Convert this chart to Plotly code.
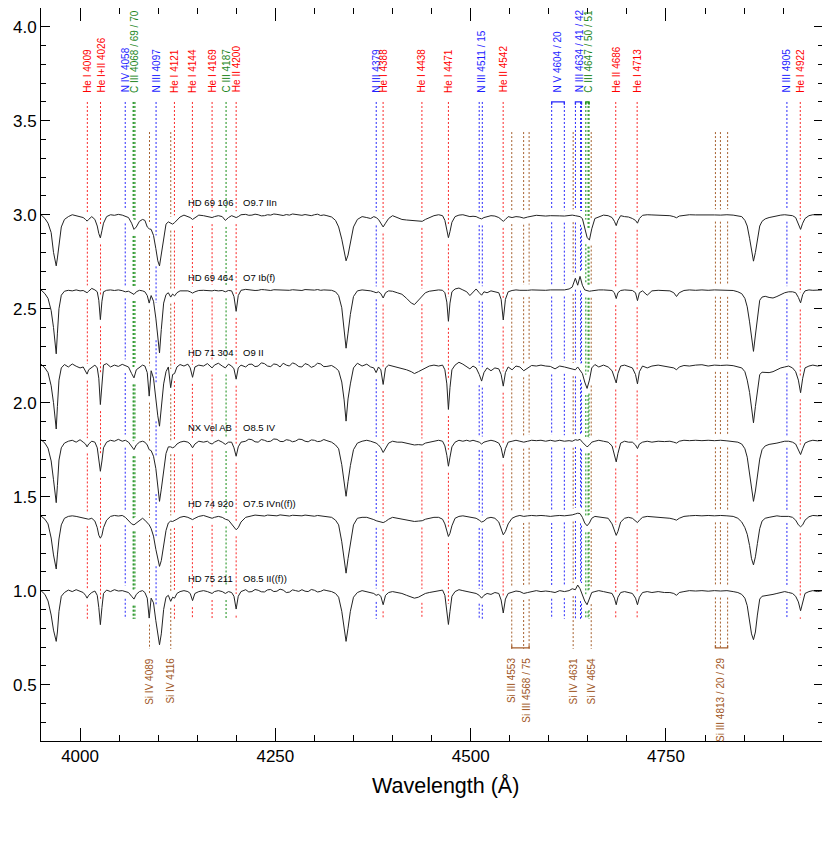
import numpy as np
import plotly.graph_objects as go

# ---------------- data ----------------
WAVE = [
    3950, 3955, 3959, 3963, 3966, 3968, 3969.5, 3971, 3973, 3976, 3980, 3985, 3990, 3995,
    4000, 4004, 4007, 4009, 4011, 4015, 4019, 4022, 4024, 4026, 4028, 4030,
    4034, 4039, 4044, 4049, 4054, 4058, 4062, 4066, 4069, 4072, 4076, 4080,
    4083, 4086, 4088.5, 4091, 4094, 4097, 4099.5, 4101.7, 4104, 4107, 4110, 4113,
    4116, 4118.5, 4121, 4124, 4128, 4133, 4138, 4141, 4144, 4147, 4152, 4158,
    4163, 4166, 4169, 4172, 4177, 4182, 4186, 4190, 4194, 4197, 4199.8, 4202.5, 4206,
    4212, 4216, 4220, 4224, 4228, 4232, 4236, 4240, 4244, 4248, 4252, 4256, 4260, 4264,
    4268, 4272, 4276, 4280, 4284, 4288, 4292, 4296, 4300, 4304, 4308, 4312, 4316,
    4322, 4327, 4331, 4335, 4338, 4340.5, 4343, 4346, 4350, 4355, 4361, 4367,
    4372, 4376, 4379, 4382, 4385, 4388, 4391, 4395, 4400, 4406, 4412, 4418,
    4424, 4428, 4433, 4438, 4442, 4447, 4453, 4459, 4464, 4467, 4469.5, 4471.5, 4473.5, 4476,
    4480, 4485, 4490, 4495, 4499, 4503, 4507, 4511, 4514, 4517, 4521, 4526,
    4531, 4536, 4539, 4541.7, 4544.5, 4548, 4553, 4558, 4563, 4568, 4573, 4578,
    4584, 4590, 4596, 4602, 4608, 4614, 4620, 4626, 4630,
    4634, 4637, 4640, 4643, 4646, 4649, 4652, 4655, 4659, 4664, 4670, 4676,
    4681, 4684, 4686.3, 4688.5, 4692, 4697, 4702, 4707, 4711, 4713.5, 4716, 4720,
    4726, 4732, 4740, 4748, 4755, 4760, 4763.5, 4767, 4773, 4780, 4788, 4796,
    4804, 4812, 4820, 4828, 4836, 4842, 4847, 4851, 4854, 4857, 4859.5, 4862,
    4864.5, 4867, 4870, 4873, 4877, 4882, 4887, 4892, 4897, 4902, 4907, 4912,
    4916, 4919.5, 4922.3, 4925, 4928, 4933, 4938, 4944, 4951,
]

FLUX_HD69106 = [
    1.0, 0.98, 0.955, 0.905, 0.80, 0.745, 0.728, 0.77, 0.85, 0.935, 0.975, 0.99, 1.0, 0.995,
    0.99, 0.985, 0.975, 0.966, 0.975, 0.99, 0.975, 0.94, 0.90, 0.877, 0.915, 0.955,
    0.99, 1.0, 0.997, 1.002, 0.998, 0.992, 0.985, 0.955, 0.922, 0.935, 0.965, 0.975,
    0.97, 0.935, 0.925, 0.922, 0.89, 0.82, 0.755, 0.728, 0.79, 0.89, 0.95, 0.962,
    0.955, 0.95, 0.958, 0.972, 0.988, 0.998, 0.99, 0.985, 0.975, 0.985, 0.998, 0.995,
    0.99, 0.99, 0.985, 0.99, 0.995, 0.99, 0.97, 0.985, 0.995, 0.99, 0.985, 0.99, 1.0,
    1.002, 0.997, 0.998, 1.003, 1.0, 0.994, 0.995, 1.0, 0.998, 1.004, 1.002, 0.997, 0.996, 1.001,
    0.998, 1.004, 1.003, 0.998, 0.997, 1.001, 0.999, 0.995, 1.0, 1.003, 0.996, 0.999, 0.995,
    0.988, 0.97, 0.935, 0.87, 0.80, 0.755, 0.785, 0.855, 0.935, 0.975, 0.99, 0.985,
    0.98, 0.99, 0.985, 0.975, 0.955, 0.935, 0.955, 0.98, 0.995, 0.985, 0.975, 0.972,
    0.97, 0.968, 0.97, 0.965, 0.975, 0.985, 0.995, 1.0, 0.995, 0.97, 0.92, 0.878, 0.91, 0.96,
    0.99, 0.998, 1.0, 0.995, 0.99, 0.992, 0.99, 0.982, 0.978, 0.985, 0.99, 0.995,
    0.993, 0.985, 0.975, 0.965, 0.975, 0.99, 0.985, 0.99, 0.988, 0.982, 0.988, 0.993,
    0.997, 0.995, 0.993, 0.995, 0.996, 0.994, 0.993, 0.995, 0.998,
    0.995, 0.993, 0.99, 0.98, 0.935, 0.88, 0.865, 0.925, 0.98, 0.99, 0.998, 0.995,
    0.985, 0.965, 0.942, 0.97, 0.995, 0.99, 0.988, 0.98, 0.97, 0.955, 0.98, 0.997,
    1.0, 0.999, 0.998, 0.997, 0.995, 0.99, 0.984, 0.993, 0.998, 1.0, 0.999, 1.0,
    0.998, 0.999, 0.998, 1.0, 0.998, 0.993, 0.99, 0.97, 0.94, 0.875, 0.80, 0.753,
    0.80, 0.87, 0.94, 0.965, 0.978, 0.985, 0.99, 0.995, 0.998, 1.0, 0.998, 0.995,
    0.985, 0.95, 0.922, 0.955, 0.98, 0.995, 1.0, 0.999, 1.0,
]

FLUX_HD69464 = [
    1.0, 0.98, 0.955, 0.89, 0.80, 0.70, 0.66, 0.77, 0.90, 0.972, 0.993, 0.998, 0.995, 1.0,
    0.995, 0.997, 0.99, 0.985, 0.993, 1.008, 1.0, 0.99, 0.945, 0.842, 0.94, 0.99,
    0.998, 1.0, 0.997, 1.0, 0.996, 0.99, 0.993, 0.982, 0.976, 0.99, 0.998, 0.995,
    0.99, 0.97, 0.93, 0.97, 0.94, 0.85, 0.76, 0.665, 0.79, 0.93, 0.975, 0.985,
    0.962, 0.978, 0.968, 0.985, 0.995, 0.997, 0.995, 0.99, 0.983, 0.99, 0.997, 0.998,
    0.995, 0.997, 0.995, 0.998, 0.995, 0.997, 0.99, 0.997, 0.995, 0.965, 0.886, 0.97, 0.998,
    1.003, 1.0, 1.0, 0.997, 0.998, 1.002, 1.001, 0.998, 0.997, 1.001, 1.0, 1.003, 1.002, 0.998,
    0.998, 1.001, 1.0, 0.997, 0.997, 1.002, 1.001, 0.998, 0.999, 1.002, 0.998, 1.0, 1.0,
    0.998, 0.99, 0.97, 0.905, 0.80, 0.69, 0.77, 0.87, 0.965, 0.995, 1.0, 0.998,
    0.995, 0.99, 0.985, 0.99, 0.98, 0.957, 0.985, 0.995, 0.993, 0.985, 0.977, 0.955,
    0.93, 0.922, 0.945, 0.972, 0.985, 0.993, 0.997, 1.0, 0.998, 0.985, 0.935, 0.833, 0.93, 0.99,
    1.005, 1.01, 1.0, 0.99, 0.97, 0.988, 1.005, 0.985, 0.972, 0.99, 0.985, 0.995,
    0.99, 0.985, 0.95, 0.84, 0.95, 0.99, 0.997, 1.0, 0.998, 0.996, 0.998, 1.0,
    0.999, 1.0, 0.998, 1.0, 1.0, 1.003, 1.0, 1.005, 1.015,
    1.062, 1.025, 1.072, 1.025, 1.0, 0.995, 0.993, 0.995, 0.998, 1.0, 1.0, 0.998,
    0.997, 0.985, 0.954, 0.985, 0.997, 1.0, 0.998, 0.997, 0.985, 0.943, 0.985, 0.995,
    0.972, 0.995, 0.998, 0.997, 0.995, 0.985, 0.965, 0.985, 0.997, 1.0, 0.998, 1.0,
    0.998, 1.0, 0.998, 0.999, 0.997, 0.99, 0.98, 0.955, 0.91, 0.83, 0.74, 0.673,
    0.76, 0.845, 0.945, 0.962, 0.966, 0.96, 0.957, 0.965, 0.975, 0.985, 0.99, 0.99,
    0.985, 0.96, 0.931, 0.975, 0.995, 1.0, 0.998, 1.0, 1.0,
]

FLUX_HD71304 = [
    1.005, 0.985, 0.96, 0.89, 0.80, 0.70, 0.66, 0.78, 0.92, 0.985, 1.003, 0.99, 1.006, 0.994,
    0.985, 0.99, 0.97, 0.952, 0.975, 0.99, 1.0, 0.985, 0.93, 0.79, 0.92, 1.0,
    1.008, 0.99, 1.0, 0.993, 1.004, 0.995, 0.99, 0.955, 0.932, 0.975, 0.99, 1.0,
    0.995, 0.96, 0.835, 0.97, 0.93, 0.80, 0.73, 0.675, 0.76, 0.90, 0.965, 0.99,
    0.88, 0.95, 0.955, 0.99, 1.003, 0.995, 1.005, 0.985, 0.935, 0.99, 1.0, 0.995,
    1.008, 0.995, 0.985, 1.0, 1.01, 0.995, 0.985, 1.005, 0.995, 0.98, 0.925, 0.985, 1.0,
    0.99, 1.004, 1.005, 0.992, 0.995, 1.012, 1.008, 0.995, 0.992, 1.006, 1.003, 0.99, 1.01, 1.0,
    0.995, 1.012, 1.005, 0.992, 0.99, 1.008, 1.002, 0.988, 0.995, 1.01, 1.006, 0.992, 0.993,
    0.998, 0.985, 0.97, 0.91, 0.815, 0.702, 0.82, 0.90, 0.985, 1.01, 0.995, 1.005,
    0.99, 0.985, 0.96, 0.99, 0.975, 0.897, 0.985, 1.0, 0.995, 0.99, 0.985, 0.975,
    0.965, 0.955, 0.965, 0.975, 0.985, 0.995, 1.0, 0.995, 1.0, 0.975, 0.90, 0.764, 0.88, 0.975,
    1.0, 1.015, 1.005, 0.99, 0.98, 0.995, 0.985, 0.95, 0.915, 0.96, 0.985, 0.97,
    0.985, 0.98, 0.95, 0.888, 0.96, 0.99, 0.975, 0.995, 0.99, 0.97, 0.985, 0.998,
    0.995, 1.0, 0.995, 0.993, 0.98, 0.995, 0.99, 0.985, 0.98,
    0.975, 0.99, 0.97, 0.955, 0.91, 0.876, 0.92, 0.985, 1.003, 0.99, 1.0, 0.99,
    0.97, 0.93, 0.905, 0.955, 0.995, 1.0, 0.993, 0.985, 0.95, 0.90, 0.965, 0.995,
    0.985, 0.995, 1.0, 0.995, 0.99, 0.985, 0.975, 0.99, 0.998, 0.995, 1.0, 1.002,
    0.995, 1.0, 0.998, 1.0, 0.997, 0.99, 0.985, 0.965, 0.92, 0.855, 0.76, 0.693,
    0.78, 0.86, 0.95, 0.962, 0.96, 0.96, 0.965, 0.975, 0.985, 0.99, 0.995, 0.985,
    0.965, 0.92, 0.853, 0.93, 0.985, 0.995, 1.0, 0.995, 1.0,
]

FLUX_NXVEL = [
    1.003, 0.985, 0.958, 0.89, 0.79, 0.70, 0.668, 0.76, 0.895, 0.96, 0.985, 0.995, 1.0, 0.99,
    1.003, 0.99, 0.98, 0.965, 0.98, 0.995, 0.99, 0.96, 0.90, 0.835, 0.89, 0.96,
    0.99, 1.0, 0.995, 1.005, 0.995, 1.0, 0.99, 0.965, 0.95, 0.975, 0.99, 0.995,
    0.99, 0.975, 0.95, 0.945, 0.915, 0.85, 0.74, 0.675, 0.74, 0.85, 0.93, 0.965,
    0.965, 0.96, 0.965, 0.98, 0.99, 0.995, 0.99, 0.98, 0.96, 0.98, 0.995, 0.99,
    0.995, 0.985, 0.98, 0.99, 1.0, 0.99, 0.978, 0.99, 0.99, 0.96, 0.915, 0.965, 0.99,
    0.995, 1.006, 1.003, 0.992, 0.99, 1.004, 1.0, 0.993, 0.995, 1.007, 1.005, 0.994, 0.993, 1.003,
    1.0, 0.992, 0.996, 1.006, 1.004, 0.995, 0.992, 1.002, 1.0, 0.993, 0.995, 1.004, 0.998,
    0.99, 0.975, 0.955, 0.87, 0.78, 0.702, 0.78, 0.865, 0.95, 0.985, 0.995, 1.0,
    0.995, 0.99, 0.985, 0.975, 0.96, 0.935, 0.96, 0.985, 0.995, 0.99, 0.99, 0.985,
    0.98, 0.975, 0.977, 0.975, 0.985, 0.99, 0.995, 1.0, 0.995, 0.97, 0.92, 0.862, 0.91, 0.965,
    0.99, 1.0, 0.995, 1.0, 0.995, 1.0, 0.995, 0.99, 0.98, 0.99, 0.995, 1.0,
    0.995, 0.985, 0.96, 0.906, 0.955, 0.99, 0.995, 1.0, 0.995, 0.99, 0.995, 1.0,
    0.998, 1.0, 0.995, 1.0, 0.995, 1.0, 0.995, 0.998, 0.995,
    1.003, 1.0, 1.005, 0.99, 0.975, 0.965, 0.975, 0.99, 0.995, 1.0, 0.995, 0.99,
    0.97, 0.92, 0.885, 0.93, 0.985, 0.995, 0.99, 0.99, 0.975, 0.956, 0.98, 0.99,
    0.995, 0.99, 0.995, 0.993, 0.995, 0.99, 0.985, 0.995, 1.0, 0.998, 1.0, 0.998,
    1.0, 0.998, 1.0, 0.997, 0.995, 0.99, 0.98, 0.955, 0.91, 0.83, 0.74, 0.675,
    0.73, 0.82, 0.90, 0.95, 0.97, 0.978, 0.98, 0.985, 0.99, 0.995, 0.995, 0.99,
    0.98, 0.95, 0.924, 0.955, 0.985, 0.995, 1.0, 0.997, 1.0,
]

FLUX_HD74920 = [
    0.997, 0.98, 0.955, 0.88, 0.79, 0.735, 0.715, 0.79, 0.875, 0.95, 0.985, 0.995, 0.998, 0.995,
    0.99, 0.985, 0.98, 0.978, 0.98, 0.985, 0.97, 0.935, 0.895, 0.879, 0.895, 0.935,
    0.975, 0.995, 1.0, 0.997, 1.0, 0.99, 0.975, 0.955, 0.95, 0.96, 0.975, 0.985,
    0.975, 0.96, 0.95, 0.93, 0.89, 0.82, 0.76, 0.729, 0.76, 0.84, 0.92, 0.96,
    0.97, 0.968, 0.972, 0.98, 0.99, 0.995, 0.99, 0.985, 0.978, 0.985, 0.995, 1.0,
    0.995, 0.99, 0.985, 0.99, 0.995, 0.99, 0.98, 0.975, 0.955, 0.935, 0.924, 0.935, 0.965,
    0.99, 0.996, 0.998, 1.002, 1.0, 0.996, 0.997, 1.002, 1.0, 0.997, 0.998, 1.003, 1.002, 0.998,
    0.997, 1.001, 1.0, 0.996, 0.998, 1.002, 1.0, 0.997, 0.996, 1.0, 0.998, 0.995, 0.997,
    0.99, 0.975, 0.95, 0.86, 0.77, 0.693, 0.77, 0.855, 0.95, 0.985, 0.99, 0.99,
    0.985, 0.978, 0.972, 0.968, 0.965, 0.962, 0.968, 0.98, 0.99, 0.985, 0.98, 0.975,
    0.97, 0.968, 0.97, 0.972, 0.98, 0.985, 0.99, 0.99, 0.98, 0.955, 0.91, 0.888, 0.905, 0.945,
    0.985, 0.995, 0.998, 0.995, 0.992, 0.99, 0.985, 0.975, 0.965, 0.97, 0.985, 0.99,
    0.985, 0.965, 0.925, 0.897, 0.915, 0.955, 0.985, 0.995, 1.0, 0.995, 0.998, 1.0,
    0.998, 1.0, 0.998, 0.995, 0.998, 1.0, 0.998, 1.0, 1.003,
    1.008, 1.012, 1.01, 0.99, 0.96, 0.945, 0.96, 0.985, 0.995, 0.993, 0.99, 0.985,
    0.955, 0.915, 0.894, 0.915, 0.965, 0.985, 0.99, 0.985, 0.972, 0.962, 0.975, 0.99,
    0.995, 0.993, 0.99, 0.99, 0.985, 0.98, 0.975, 0.985, 0.995, 0.998, 1.0, 0.998,
    1.0, 0.998, 1.0, 0.998, 0.995, 0.985, 0.965, 0.935, 0.90, 0.84, 0.77, 0.737,
    0.78, 0.85, 0.93, 0.97, 0.985, 0.99, 0.995, 0.998, 0.995, 0.997, 0.995, 0.99,
    0.975, 0.95, 0.94, 0.95, 0.975, 0.993, 1.0, 0.998, 1.0,
]

FLUX_HD75211 = [
    1.0, 0.98, 0.945, 0.87, 0.79, 0.745, 0.73, 0.78, 0.89, 0.97, 0.99, 1.003, 0.995, 1.005,
    0.995, 0.99, 0.975, 0.96, 0.975, 0.99, 0.998, 0.975, 0.91, 0.819, 0.91, 0.985,
    1.003, 0.995, 1.005, 0.998, 1.0, 0.993, 0.99, 0.97, 0.955, 0.98, 0.995, 1.0,
    0.99, 0.96, 0.854, 0.96, 0.935, 0.84, 0.76, 0.712, 0.77, 0.90, 0.965, 0.975,
    0.943, 0.965, 0.96, 0.985, 0.995, 1.0, 0.995, 0.985, 0.947, 0.985, 0.995, 1.0,
    0.995, 0.99, 0.985, 0.995, 1.0, 0.995, 0.985, 0.995, 0.99, 0.97, 0.902, 0.97, 0.995,
    1.005, 0.993, 0.995, 1.006, 1.002, 0.994, 0.993, 1.004, 1.006, 0.995, 0.997, 1.008, 1.003, 0.99,
    0.992, 1.004, 1.0, 0.996, 1.005, 0.997, 0.995, 1.006, 1.002, 0.993, 0.996, 1.004, 1.0,
    0.995, 0.985, 0.965, 0.89, 0.80, 0.73, 0.80, 0.89, 0.965, 0.99, 1.0, 0.995,
    0.99, 0.985, 0.975, 0.98, 0.97, 0.925, 0.975, 0.99, 0.995, 0.99, 0.985, 0.975,
    0.965, 0.96, 0.965, 0.975, 0.985, 0.99, 0.995, 1.0, 1.003, 0.975, 0.90, 0.82, 0.89, 0.97,
    0.995, 1.005, 1.0, 0.995, 0.995, 0.99, 0.985, 0.975, 0.96, 0.975, 0.985, 0.98,
    0.99, 0.985, 0.95, 0.881, 0.955, 0.985, 0.99, 0.998, 0.995, 0.985, 0.99, 0.995,
    1.0, 0.995, 0.998, 0.995, 0.99, 1.0, 0.995, 1.0, 1.01,
    1.005, 1.03, 1.01, 0.975, 0.945, 0.925, 0.96, 0.99, 0.995, 1.0, 0.995, 0.99,
    0.985, 0.96, 0.925, 0.965, 0.99, 0.995, 0.99, 0.985, 0.96, 0.925, 0.965, 0.99,
    0.995, 0.99, 0.995, 0.99, 0.99, 0.985, 0.975, 0.99, 0.995, 1.0, 0.998, 1.0,
    0.997, 1.0, 0.998, 1.0, 0.995, 0.99, 0.98, 0.96, 0.92, 0.84, 0.77, 0.739,
    0.78, 0.87, 0.955, 0.97, 0.972, 0.975, 0.98, 0.985, 0.99, 0.995, 0.99, 0.985,
    0.97, 0.94, 0.893, 0.945, 0.985, 0.995, 1.0, 0.995, 1.0,
]

FLUXES = [FLUX_HD69106, FLUX_HD69464, FLUX_HD71304, FLUX_NXVEL, FLUX_HD74920, FLUX_HD75211]
STAR_NAMES = ["HD 69 106", "HD 69 464", "HD 71 304", "NX Vel AB", "HD 74 920", "HD 75 211"]
SP_TYPES = ["O9.7 IIn", "O7 Ib(f)", "O9 II", "O8.5 IV", "O7.5 IVn((f))", "O8.5 II((f))"]
OFFSETS = [2.0, 1.6, 1.2, 0.8, 0.4, 0.0]

# line identifications: (label, wavelengths, colour key, side)
LINE_IDS = [
    ("He I 4009", [4009.3], "red", "top"),
    ("He I+II 4026", [4026.2], "red", "top"),
    ("N IV 4058", [4057.8], "blue", "top"),
    ("C III 4068 / 69 / 70", [4067.9, 4068.9, 4070.3], "green", "top"),
    ("N III 4097", [4097.3], "blue", "top"),
    ("He I 4121", [4120.8], "red", "top"),
    ("He I 4144", [4143.8], "red", "top"),
    ("He I 4169", [4169.0], "red", "top"),
    ("C III 4187", [4186.9], "green", "top"),
    ("He II 4200", [4199.8], "red", "top"),
    ("N III 4379", [4379.1], "blue", "top"),
    ("He I 4388", [4387.9], "red", "top"),
    ("He I 4438", [4437.6], "red", "top"),
    ("He I 4471", [4471.5], "red", "top"),
    ("N III 4511 / 15", [4510.9, 4514.9], "blue", "top"),
    ("He II 4542", [4541.6], "red", "top"),
    ("N V 4604 / 20", [4603.7, 4619.9], "blue", "top"),
    ("N III 4634 / 41 / 42", [4634.1, 4640.6, 4641.9], "blue", "top"),
    ("C III 4647 / 50 / 51", [4647.4, 4650.3, 4651.5], "green", "top"),
    ("He II 4686", [4685.7], "red", "top"),
    ("He I 4713", [4713.1], "red", "top"),
    ("N III 4905", [4904.8], "blue", "top"),
    ("He I 4922", [4921.9], "red", "top"),
    ("Si IV 4089", [4088.9], "brown", "bottom"),
    ("Si IV 4116", [4116.1], "brown", "bottom"),
    ("Si III 4553", [4552.6], "brown", "bottom"),
    ("Si III 4568 / 75", [4567.8, 4574.8], "brown", "bottom"),
    ("Si IV 4631", [4631.2], "brown", "bottom"),
    ("Si IV 4654", [4654.3], "brown", "bottom"),
    ("Si III 4813 / 20 / 29", [4813.3, 4819.7, 4828.9], "brown", "bottom"),
]

# brackets joining blended components: (first wl, last wl, colour key, side)
BRACKETS = [
    (4603.7, 4619.9, "blue", "top"),
    (4634.1, 4641.9, "blue", "top"),
    (4647.4, 4651.5, "green", "top"),
    (4552.6, 4574.8, "brown", "bottom"),
    (4813.3, 4828.9, "brown", "bottom"),
]

LINE_COL = {"red": "rgb(250,40,40)", "blue": "rgb(40,40,250)",
            "green": "rgb(20,140,20)", "brown": "rgb(165,95,45)"}
TEXT_COL = {"red": "rgb(255,0,0)", "blue": "rgb(30,30,255)",
            "green": "rgb(30,135,30)", "brown": "rgb(160,85,35)"}

FONT = "Liberation Sans, Arial, sans-serif"

# ---------------- figure ----------------
wave = np.array(WAVE, dtype=float)
for f in FLUXES:
    assert len(f) == len(wave), (len(f), len(wave))

fig = go.Figure()


def window_stats(flux, lam, off, half=2.0):
    fl = np.array(flux, dtype=float) + off
    sel = (wave >= lam - half) & (wave <= lam + half)
    vals = list(fl[sel]) + list(np.interp([lam - half, lam, lam + half], wave, fl))
    return min(vals), max(vals)


# dotted identification marks in the gaps between the spectra
seg = {k: ([], []) for k in LINE_COL}
for label, wls, ck, side in LINE_IDS:
    ytop = 3.6 if side == "top" else 3.44
    ybot = 0.85 if side == "top" else 0.69
    for lam in wls:
        hi, lo = [], []
        for f, off in zip(FLUXES, OFFSETS):
            mn, mx = window_stats(f, lam, off)
            hi.append(mx)
            lo.append(mn)
        pieces = [(ytop, hi[0] + 0.03)]
        for i in range(len(FLUXES) - 1):
            pieces.append((lo[i] - 0.035, hi[i + 1] + 0.03))
        pieces.append((lo[-1] - 0.035, ybot))
        xs, ys = seg[ck]
        for a, b in pieces:
            if a > b:
                xs += [lam, lam, None]
                ys += [a, b, None]

for ck, (xs, ys) in seg.items():
    fig.add_trace(go.Scatter(x=xs, y=ys, mode="lines",
                             line=dict(color=LINE_COL[ck], width=1, dash="2px,2px"),
                             hoverinfo="skip", showlegend=False))

for w0, w1, ck, side in BRACKETS:
    if side == "top":
        y0, y1 = 3.585, 3.6
    else:
        y0, y1 = 0.71, 0.695
    fig.add_trace(go.Scatter(x=[w0, w0, w1, w1], y=[y0, y1, y1, y0], mode="lines",
                             line=dict(color=LINE_COL[ck], width=1.3),
                             hoverinfo="skip", showlegend=False))

# spectra
for f, off in zip(FLUXES, OFFSETS):
    fig.add_trace(go.Scatter(x=wave, y=np.array(f) + off, mode="lines",
                             line=dict(color="rgb(35,35,35)", width=1),
                             hoverinfo="skip", showlegend=False))

annotations = []
for label, wls, ck, side in LINE_IDS:
    xm = float(np.mean(wls))
    if side == "top":
        annotations.append(dict(x=xm, y=3.645, xref="x", yref="y", text=label,
                                textangle=-90, xanchor="center", yanchor="bottom",
                                showarrow=False, borderpad=0,
                                font=dict(family=FONT, size=10, color=TEXT_COL[ck])))
    else:
        annotations.append(dict(x=xm, y=0.648, xref="x", yref="y", text=label,
                                textangle=-90, xanchor="center", yanchor="top",
                                showarrow=False, borderpad=0,
                                font=dict(family=FONT, size=10, color=TEXT_COL[ck])))

for name, sp, off in zip(STAR_NAMES, SP_TYPES, OFFSETS):
    annotations.append(dict(x=4135, y=off + 1.066, xref="x", yref="y", text=name,
                            xanchor="left", yanchor="middle", showarrow=False,
                            font=dict(family=FONT, size=9.5, color="black")))
    annotations.append(dict(x=4206, y=off + 1.066, xref="x", yref="y", text=sp,
                            xanchor="left", yanchor="middle", showarrow=False,
                            font=dict(family=FONT, size=9.5, color="black")))

# x-axis title (sits slightly right of the plot centre in the original)
annotations.append(dict(x=0.517, y=-0.062, xref="paper", yref="paper",
                        text="Wavelength (Å)", xanchor="center", yanchor="middle",
                        showarrow=False,
                        font=dict(family=FONT, size=21.5, color="black")))

# the page body adds an 8 px margin, so the figure is 8 px smaller than the window
fig.update_layout(
    width=822, height=844,
    margin=dict(l=33, r=7, t=0, b=111, autoexpand=False),
    plot_bgcolor="white", paper_bgcolor="white",
    annotations=annotations,
    showlegend=False,
)
fig.update_xaxes(
    range=[3950, 4951], tickvals=[4000, 4250, 4500, 4750],
    ticks="inside", ticklen=13, tickwidth=1, tickcolor="black",
    minor=dict(dtick=50, tick0=4000, ticks="inside", ticklen=6, tickcolor="black", showgrid=False),
    showline=True, linecolor="black", linewidth=1, mirror="allticks",
    showgrid=False, zeroline=False, automargin=False,
    tickfont=dict(family=FONT, size=17, color="black"),
)
fig.update_yaxes(
    range=[0.2, 4.1], tickvals=[0.5, 1.0, 1.5, 2.0, 2.5, 3.0, 3.5, 4.0],
    ticktext=["0.5", "1.0", "1.5", "2.0", "2.5", "3.0", "3.5", "4.0"],
    ticks="inside", ticklen=9, tickwidth=1, tickcolor="black",
    minor=dict(dtick=0.1, tick0=0, ticks="inside", ticklen=5, tickcolor="black", showgrid=False),
    showline=True, linecolor="black", linewidth=1, mirror="allticks",
    showgrid=False, zeroline=False, automargin=False,
    tickfont=dict(family=FONT, size=17, color="black"),
)

fig.write_html("out.html")
